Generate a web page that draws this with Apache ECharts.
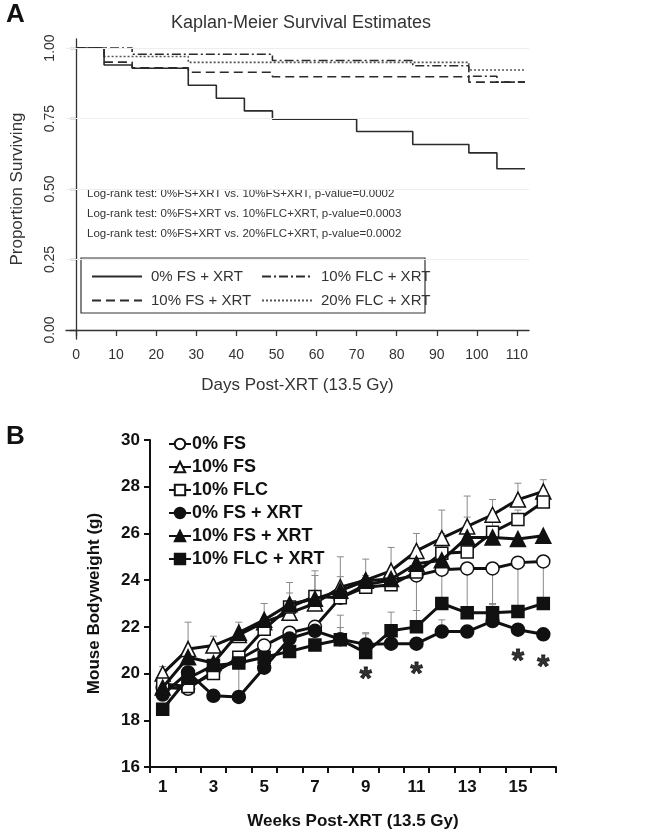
<!DOCTYPE html>
<html>
<head>
<meta charset="utf-8">
<script src="https://cdn.jsdelivr.net/npm/echarts@6/dist/echarts.min.js"></script>
<style>
  html, body { margin: 0; padding: 0; background: #fff; }
  #chart { width: 649px; height: 833px; }
</style>
</head>
<body>
<div id="chart"></div>
<script>
// ---- Panel A: Kaplan-Meier survival (day, proportion surviving) ----
const kmNames = ["0% FS + XRT", "10% FS + XRT", "10% FLC + XRT", "20% FLC + XRT"];
const kmDays0FS = [0, 7, 14, 28, 35, 42, 49, 70, 84, 98, 105, 112];
const kmSurv0FS = [1, 0.94, 0.928, 0.868, 0.822, 0.777, 0.748, 0.704, 0.658, 0.628, 0.572, 0.572];
const kmDays10FS = [0, 7, 14, 28, 49, 98, 112];
const kmSurv10FS = [1, 0.95, 0.93, 0.914, 0.898, 0.879, 0.879];
const kmDays10FLC = [0, 14, 49, 84, 98, 105, 112];
const kmSurv10FLC = [1, 0.978, 0.956, 0.937, 0.9, 0.879, 0.879];
const kmDays20FLC = [0, 7, 28, 98, 112];
const kmSurv20FLC = [1, 0.97, 0.949, 0.922, 0.922];
const dayTicks = [0, 10, 20, 30, 40, 50, 60, 70, 80, 90, 100, 110];
const survTicks = [0, 0.25, 0.5, 0.75, 1];
const logRankLines = [
  "Log-rank test: 0%FS+XRT vs. 10%FS+XRT, p-value=0.0002",
  "Log-rank test: 0%FS+XRT vs. 10%FLC+XRT, p-value=0.0003",
  "Log-rank test: 0%FS+XRT vs. 20%FLC+XRT, p-value=0.0002"
];

// ---- Panel B: mouse bodyweight (g) by week ----
const weeks = ["1", "2", "3", "4", "5", "6", "7", "8", "9", "10", "11", "12", "13", "14", "15", "16"];
const bwNames = ["0% FS", "10% FS", "10% FLC", "0% FS + XRT", "10% FS + XRT", "10% FLC + XRT"];
const bw0FS = [19.4, 19.35, 20.1, 20.6, 21.2, 21.75, 22.0, 23.25, 23.8, 24.0, 24.2, 24.45, 24.5, 24.5, 24.75, 24.8];
const bw10FS = [20.0, 21.05, 21.2, 21.65, 22.2, 22.6, 23.0, 23.7, 24.0, 24.4, 25.25, 25.8, 26.3, 26.8, 27.45, 27.8];
const bw10FLC = [19.55, 19.45, 20.0, 20.7, 21.9, 22.85, 23.3, 23.25, 23.7, 23.8, 24.35, 25.15, 25.2, 26.05, 26.6, 27.35];
const bw0FSX = [19.1, 20.05, 19.05, 19.0, 20.25, 21.5, 21.83, 21.47, 21.25, 21.28, 21.28, 21.8, 21.8, 22.25, 21.88, 21.68];
const bw10FSX = [19.4, 20.7, 20.45, 21.75, 22.3, 22.97, 23.2, 23.55, 23.97, 24.05, 24.7, 24.85, 25.83, 25.83, 25.76, 25.9];
const bw10FLCX = [18.47, 19.8, 20.35, 20.45, 20.7, 20.95, 21.22, 21.45, 20.9, 21.83, 22.0, 23.0, 22.6, 22.6, 22.66, 23.0];
// error bar lengths (g), upward or downward as drawn
const errUp10FS = [0.3, 1.15, 0.4, 0.55, 0.8, 1.3, 1.4, 1.3, 0.9, 1.0, 0.75, 1.2, 1.3, 0.65, 0.7, 0.5];
const errUp10FLC = [0, 0.3, 0, 0, 0.4, 0.6, 0.9, 0.9, 0.5, 0.6, 1.05, 0.85, 1.5, 0.8, 0.4, 0.3];
const errDown0FS = [0, 0, 0, 1.6, 0, 0, 0, 0, 0, 0, 1.5, 1.5, 1.9, 1.55, 2.1, 1.8];
const errUp0FSX = [0.2, 0, 0, 0, 0, 0.3, 0.3, 0.5, 0.45, 0.3, 0, 0.5, 0, 0, 0, 0];
const errUp10FLCX = [0, 0.3, 0, 0, 0, 0, 0, 1.05, 0.85, 0.8, 0.7, 0, 0, 0.4, 0, 0];
const starWeeks = [8, 10, 14, 15]; // category index (weeks 9, 11, 15, 16)
const starY = [19.7, 19.95, 20.5, 20.25];
const bwTicks = { min: 16, max: 30, interval: 2 };

const chart = echarts.init(document.getElementById("chart"));
const FONT = "Liberation Sans, Arial, sans-serif";
const INK = "#2b2b2b";
// panel B shares three group names with panel A; a zero-width tag keeps the series apart
const TAG = "\u200B";

function pairs(xs, ys) {
  return xs.map((x, i) => [x, ys[i]]);
}

function errData(vals, errs, sign) {
  const out = [];
  vals.forEach((v, i) => {
    if (errs[i] > 0) out.push([i, v, v + sign * errs[i]]);
  });
  return out;
}

function renderErr(params, api) {
  const a = api.coord([api.value(0), api.value(1)]);
  const b = api.coord([api.value(0), api.value(2)]);
  const cap = 3.5;
  return {
    type: "group",
    children: [
      { type: "line", shape: { x1: a[0], y1: a[1], x2: b[0], y2: b[1] }, style: { stroke: "#8a8a8a", lineWidth: 1 } },
      { type: "line", shape: { x1: b[0] - cap, y1: b[1], x2: b[0] + cap, y2: b[1] }, style: { stroke: "#8a8a8a", lineWidth: 1 } }
    ]
  };
}

const kmDash = ["solid", [9, 5], [9, 3, 2, 3], [2, 2]];
const kmSets = [
  pairs(kmDays0FS, kmSurv0FS),
  pairs(kmDays10FS, kmSurv10FS),
  pairs(kmDays10FLC, kmSurv10FLC),
  pairs(kmDays20FLC, kmSurv20FLC)
];
// draw order: dotted, dash-dot, dashed, solid on top
const kmOrder = [3, 2, 1, 0];

const kmSeries = kmOrder.map((k) => ({
  name: kmNames[k],
  type: "line",
  step: "end",
  xAxisIndex: 0,
  yAxisIndex: 0,
  symbol: "none",
  data: kmSets[k],
  lineStyle: { color: k === 3 ? "#555" : INK, width: 1.6, type: kmDash[k] },
  itemStyle: { color: "rgba(0,0,0,0)", borderWidth: 0 },
  z: 3,
  markLine: k === 3 ? {
    silent: true,
    symbol: "none",
    label: { show: false },
    lineStyle: { color: "#eeeeee", width: 1, type: "solid" },
    data: survTicks.slice(1).map((v) => ({ yAxis: v }))
  } : undefined
}));

const bwSets = [bw0FS, bw10FS, bw10FLC, bw0FSX, bw10FSX, bw10FLCX];
const bwSymbols = ["circle", "triangle", "rect", "circle", "triangle", "rect"];
const bwSizes = [13, 15, 12, 13, 15, 12];
const bwFill = ["#fff", "#fff", "#fff", "#111", "#111", "#111"];

const bwSeries = bwSets.map((vals, k) => ({
  name: bwNames[k] + TAG,
  type: "line",
  xAxisIndex: 1,
  yAxisIndex: 1,
  data: vals,
  symbol: bwSymbols[k],
  symbolSize: bwSizes[k],
  showAllSymbol: true,
  lineStyle: { color: "#111", width: 3 },
  itemStyle: { color: bwFill[k], borderColor: "#111", borderWidth: 1.5 },
  z: 4 + k
}));

const errSeries = [
  errData(bw10FS, errUp10FS, 1),
  errData(bw10FLC, errUp10FLC, 1),
  errData(bw0FS, errDown0FS, -1),
  errData(bw0FSX, errUp0FSX, 1),
  errData(bw10FLCX, errUp10FLCX, 1)
].map((d) => ({
  type: "custom",
  xAxisIndex: 1,
  yAxisIndex: 1,
  renderItem: renderErr,
  encode: { x: 0, y: [1, 2] },
  data: d,
  silent: true,
  z: 2
}));

const starSeries = {
  type: "scatter",
  xAxisIndex: 1,
  yAxisIndex: 1,
  symbolSize: 1,
  itemStyle: { color: "rgba(0,0,0,0)" },
  data: starWeeks.map((w, i) => [w, starY[i]]),
  label: {
    show: true,
    position: "inside",
    formatter: "*",
    color: "#000",
    textBorderColor: "#000",
    textBorderWidth: 0.8,
    fontFamily: FONT,
    fontWeight: "bold",
    fontSize: 32
  },
  silent: true,
  z: 10
};

const axisTextA = { color: "#333", fontFamily: FONT, fontSize: 14 };
const boldText = { color: "#111", fontFamily: FONT, fontWeight: "bold", fontSize: 17 };
const kmLegendText = { color: "#333", fontFamily: FONT, fontSize: 15, padding: [0, 0, 0, 4] };

const option = {
  animation: false,
  backgroundColor: "#fff",
  textStyle: { fontFamily: FONT },
  grid: [
    { left: 66, right: 120, top: 39, height: 300 },
    { left: 150, right: 93, top: 440, height: 327 }
  ],
  xAxis: [
    {
      gridIndex: 0,
      type: "value",
      min: -2.5,
      max: 113,
      name: "Days Post-XRT (13.5 Gy)",
      nameLocation: "middle",
      nameGap: 38,
      nameTextStyle: { color: "#333", fontFamily: FONT, fontSize: 17 },
      axisLine: { show: true, lineStyle: { color: "#333", width: 1.3 } },
      axisTick: { show: true, length: 6, customValues: dayTicks, lineStyle: { color: "#333", width: 1.3 } },
      axisLabel: { customValues: dayTicks, margin: 9, ...axisTextA },
      splitLine: { show: false }
    },
    {
      gridIndex: 1,
      type: "category",
      data: weeks,
      boundaryGap: true,
      name: "Weeks Post-XRT (13.5 Gy)",
      nameLocation: "middle",
      nameGap: 46,
      nameTextStyle: boldText,
      axisLine: { lineStyle: { color: "#111", width: 2 } },
      axisTick: { show: true, interval: 0, alignWithLabel: false, length: 6, lineStyle: { color: "#111", width: 2 } },
      axisLabel: { interval: 1, margin: 12, ...boldText },
      splitLine: { show: false }
    }
  ],
  yAxis: [
    {
      gridIndex: 0,
      type: "value",
      min: -0.032,
      max: 1.032,
      name: "Proportion Surviving",
      nameLocation: "middle",
      nameGap: 40,
      nameTextStyle: { color: "#333", fontFamily: FONT, fontSize: 17 },
      axisLine: { show: true, lineStyle: { color: "#333", width: 1.3 } },
      axisTick: { show: true, length: 6, customValues: survTicks, lineStyle: { color: "#333", width: 1.3 } },
      axisLabel: { customValues: survTicks, rotate: 90, margin: 9, formatter: (v) => v.toFixed(2), ...axisTextA },
      splitLine: { show: false }
    },
    {
      gridIndex: 1,
      type: "value",
      min: bwTicks.min,
      max: bwTicks.max,
      interval: bwTicks.interval,
      name: "Mouse Bodyweight (g)",
      nameLocation: "middle",
      nameGap: 47,
      nameTextStyle: boldText,
      axisLine: { show: true, lineStyle: { color: "#111", width: 2 } },
      axisTick: { show: true, length: 6, lineStyle: { color: "#111", width: 2 } },
      axisLabel: { margin: 10, ...boldText },
      splitLine: { show: false }
    }
  ],
  legend: [
    {
      data: [kmNames[0], kmNames[1]],
      orient: "vertical",
      left: 86,
      top: 264,
      itemWidth: 50,
      itemHeight: 14,
      itemGap: 9,
      selectedMode: false,
      itemStyle: { opacity: 0 },
      textStyle: kmLegendText
    },
    {
      data: [kmNames[2], kmNames[3]],
      orient: "vertical",
      left: 256,
      top: 264,
      itemWidth: 50,
      itemHeight: 14,
      itemGap: 9,
      selectedMode: false,
      itemStyle: { opacity: 0 },
      textStyle: kmLegendText
    },
    {
      data: bwNames.map((n) => n + TAG),
      orient: "vertical",
      left: 163,
      top: 429,
      itemWidth: 22,
      itemHeight: 13,
      itemGap: 3,
      selectedMode: false,
      textStyle: { color: "#111", fontFamily: FONT, fontWeight: "bold", fontSize: 18, lineHeight: 20, padding: [0, 0, 0, -4] }
    }
  ],
  graphic: [
    { type: "text", left: 6, top: 2, style: { text: "A", font: "bold 26px " + FONT, fill: "#111" } },
    { type: "text", left: 6, top: 424, style: { text: "B", font: "bold 26px " + FONT, fill: "#111" } },
    { type: "text", x: 301, y: 23, style: { text: "Kaplan-Meier Survival Estimates", font: "18px " + FONT, fill: "#333", textAlign: "center", textVerticalAlign: "middle" } },
    ...logRankLines.map((t, i) => ({
      type: "text",
      x: 87,
      y: 194 + i * 20,
      style: { text: t, font: "11.5px " + FONT, fill: "#333", textVerticalAlign: "middle" }
    })),
    { type: "rect", shape: { x: 81, y: 258, width: 344, height: 55 }, style: { fill: "none", stroke: "#333", lineWidth: 1.2 }, z: 1 }
  ],
  series: [...kmSeries, ...errSeries, ...bwSeries, starSeries]
};

chart.setOption(option);
</script>
</body>
</html>
